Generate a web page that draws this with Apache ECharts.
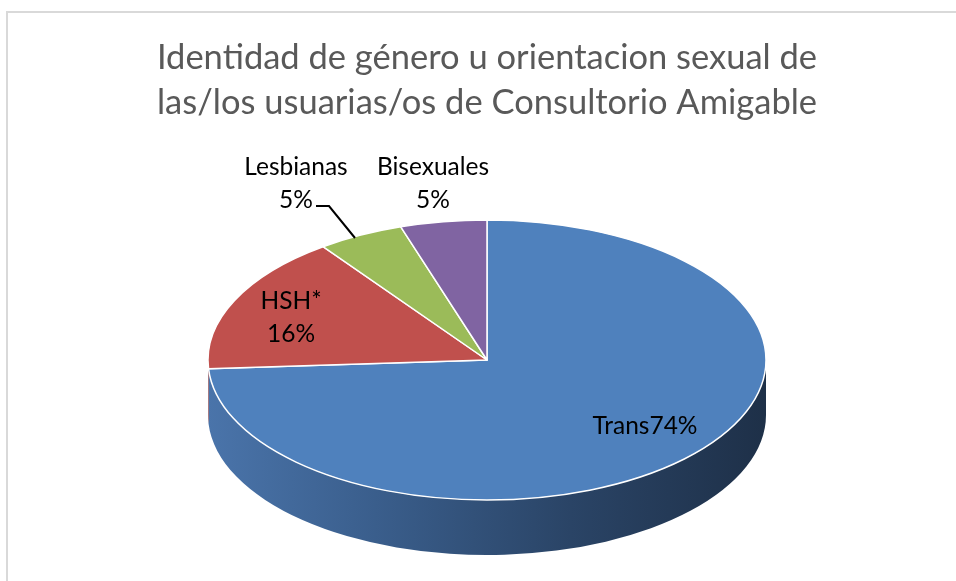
<!DOCTYPE html>
<html>
<head>
<meta charset="utf-8">
<script src="https://cdn.jsdelivr.net/npm/echarts@6/dist/echarts.min.js"></script>
<style>
html,body{margin:0;padding:0;background:#fff;}
#chart{width:956px;height:581px;}
</style>
</head>
<body>
<div id="chart"></div>
<script>
// ---- data ----
const categories = ['Trans', 'HSH*', 'Lesbianas', 'Bisexuales'];
const values = [74, 16, 5, 5];
const percentLabels = ['74%', '16%', '5%', '5%'];
const titleText = 'Identidad de género u orientacion sexual de\nlas/los usuarias/os de Consultorio Amigable';

// ---- layout / style ----
const CX = 487, CY = 360, RX = 279, RY = 140, DEPTH = 55;
const FONT = 'Lato';
const topColors = ['#4F81BD', '#C0504D', '#9BBB59', '#8064A2'];
const sideStops = [
  [{offset:0,color:'#4A74AA'},{offset:0.3,color:'#3A5E8C'},{offset:0.65,color:'#2A4466'},{offset:1,color:'#1E3048'}],
  [{offset:0,color:'#9A3F3D'},{offset:1,color:'#6A2A28'}],
  [{offset:0,color:'#7C9647'},{offset:1,color:'#55672F'}],
  [{offset:0,color:'#66507F'},{offset:1,color:'#45365A'}]
];
const labelLayout = [
  {x: 645, y: 426, sep: ''},
  {x: 291, y: 318, sep: '\n'},
  {x: 296, y: 184, sep: '\n'},
  {x: 433, y: 184, sep: '\n'}
];
const leader = {2: [[316, 206], [329, 206], [355, 238]]};

const total = values.reduce((a, b) => a + b, 0);
const cumBefore = values.map((v, i) => values.slice(0, i).reduce((a, b) => a + b, 0));
const seriesData = values.map((v, i) => ({name: categories[i], value: [v, cumBefore[i]]}));

function pt(deg, dy) {
  const r = deg * Math.PI / 180;
  return [CX + RX * Math.sin(r), CY - RY * Math.cos(r) + (dy || 0)];
}
function f(n) { return n.toFixed(2); }

function topPath(a0, a1) {
  const p0 = pt(a0), p1 = pt(a1);
  const large = (a1 - a0) > 180 ? 1 : 0;
  return 'M' + CX + ',' + CY + ' L' + f(p0[0]) + ',' + f(p0[1]) +
    ' A' + RX + ',' + RY + ' 0 ' + large + ' 1 ' + f(p1[0]) + ',' + f(p1[1]) + ' Z';
}
function sidePath(a0, a1) {
  const s = Math.max(a0, 90), e = Math.min(a1, 270);
  if (e <= s) return null;
  const p0 = pt(s), p1 = pt(e), q1 = pt(e, DEPTH), q0 = pt(s, DEPTH);
  const large = (e - s) > 180 ? 1 : 0;
  return 'M' + f(p0[0]) + ',' + f(p0[1]) +
    ' A' + RX + ',' + RY + ' 0 ' + large + ' 1 ' + f(p1[0]) + ',' + f(p1[1]) +
    ' L' + f(q1[0]) + ',' + f(q1[1]) +
    ' A' + RX + ',' + RY + ' 0 ' + large + ' 0 ' + f(q0[0]) + ',' + f(q0[1]) + ' Z';
}
function angles(api) {
  const v = api.value(0), c = api.value(1);
  return [c / total * 360, (c + v) / total * 360];
}

const chart = echarts.init(document.getElementById('chart'), null, {renderer: 'canvas'});
chart.setOption({
  backgroundColor: '#fff',
  animation: false,
  graphic: [
    {type: 'rect', shape: {x: 7, y: 12, width: 1000, height: 1000},
     style: {fill: 'none', stroke: '#D9D9D9', lineWidth: 2}, z: 0},
    {type: 'text', x: 487, y: 80,
     style: {text: titleText, fill: '#595959', fontFamily: FONT, fontSize: 34.5,
             align: 'center', verticalAlign: 'middle', lineHeight: 45}, z: 10}
  ],
  series: [
    {
      type: 'custom', coordinateSystem: 'none', z: 1, silent: true,
      data: seriesData,
      renderItem: function (params, api) {
        const i = params.dataIndex;
        const [a0, a1] = angles(api);
        const d = sidePath(a0, a1);
        if (!d) return {type: 'group', children: []};
        return {
          type: 'path', shape: {pathData: d},
          style: {fill: {type: 'linear', x: CX - RX, y: 0, x2: CX + RX, y2: 0, global: true,
                         colorStops: sideStops[i]}, stroke: null}
        };
      }
    },
    {
      type: 'custom', coordinateSystem: 'none', z: 2, silent: true,
      data: seriesData,
      renderItem: function (params, api) {
        const i = params.dataIndex;
        const [a0, a1] = angles(api);
        const L = labelLayout[i];
        const children = [
          {type: 'path', shape: {pathData: topPath(a0, a1)},
           style: {fill: topColors[i], stroke: '#FFFFFF', lineWidth: 1.5, lineJoin: 'round'}},
          {type: 'text', x: L.x, y: L.y, z2: 10,
           style: {text: categories[i] + L.sep + percentLabels[i], fill: '#000',
                   fontFamily: FONT, fontSize: 24.5, align: 'center', verticalAlign: 'middle',
                   lineHeight: 33}}
        ];
        if (leader[i]) {
          children.push({type: 'polyline', shape: {points: leader[i]},
            style: {stroke: '#000', lineWidth: 2, fill: null}});
        }
        return {type: 'group', children: children};
      }
    }
  ]
});
</script>
</body>
</html>
